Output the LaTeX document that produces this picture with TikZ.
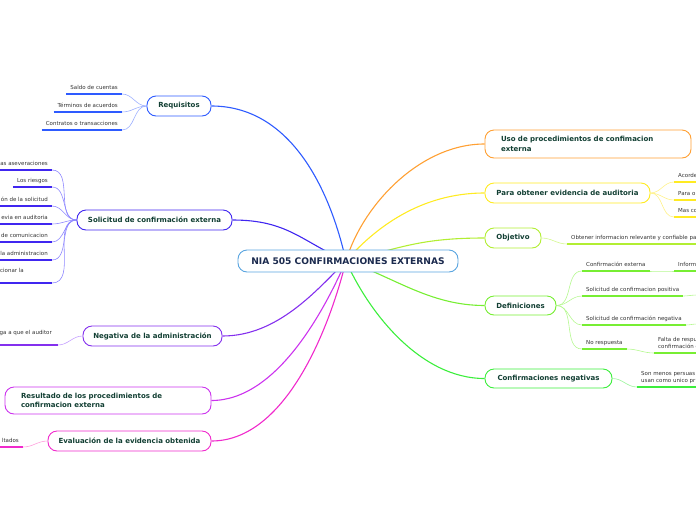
\documentclass[tikz,border=0pt]{standalone}
\usepackage{fontspec}
\setmainfont{DejaVu Sans}
\usetikzlibrary{backgrounds}
\definecolor{nodetext}{HTML}{123F33}
\definecolor{centertext}{HTML}{1B2A4E}
\definecolor{leaftext}{HTML}{333333}
\definecolor{cCen}{HTML}{5AA5E0}
\definecolor{cReq}{HTML}{2E5BFF}
\definecolor{lReq}{HTML}{9DB0FF}
\definecolor{cSol}{HTML}{4026F0}
\definecolor{lSol}{HTML}{8F88FF}
\definecolor{cNeg}{HTML}{8430EE}
\definecolor{lNeg}{HTML}{C6A2FF}
\definecolor{cRes}{HTML}{CC33EE}
\definecolor{cEva}{HTML}{F02ACC}
\definecolor{lEva}{HTML}{FFA0DD}
\definecolor{cUso}{HTML}{FFA033}
\definecolor{cPara}{HTML}{FFEB22}
\definecolor{lPara}{HTML}{FFF188}
\definecolor{cObj}{HTML}{B2EE33}
\definecolor{lObj}{HTML}{D4F890}
\definecolor{cDef}{HTML}{77EE33}
\definecolor{lDef}{HTML}{B5F890}
\definecolor{cCn}{HTML}{3CEE3C}
\definecolor{lCn}{HTML}{9AF59A}
\tikzset{
  mainbox/.style={draw, rounded corners=9pt, fill=white, line width=0.9pt,
    font=\bfseries\fontsize{7}{9.5}\selectfont, text=nodetext,
    minimum height=20pt, inner sep=0pt},
  leaf/.style={font=\fontsize{5.5}{7}\selectfont, text=leaftext,
    inner xsep=4pt, inner ysep=3pt, text depth=1pt},
  trunk/.style={line width=1.1pt},
  twig/.style={line width=0.6pt},
  uline/.style={line width=1.4pt}
}
\begin{document}
\begin{tikzpicture}[x=1pt,y=-1pt]
\useasboundingbox (0,0) rectangle (696,520);
\clip (0,0) rectangle (696,520);
% central node
\node[mainbox, draw=cCen, text=centertext, font=\bfseries\fontsize{9.1}{11}\selectfont,
  minimum width=220pt, minimum height=22pt] (cen) at (348,261) {NIA 505 CONFIRMACIONES EXTERNAS};
\coordinate (hub) at (346,261);
% left main nodes
\node[mainbox, draw=cReq, minimum width=64pt] (req) at (179,106) {Requisitos};
\node[mainbox, draw=cSol, minimum width=155pt] (sol) at (154.5,220) {Solicitud de confirmación externa};
\node[mainbox, draw=cNeg, minimum width=139pt] (neg) at (152.5,336) {Negativa de la administración};
\node[mainbox, draw=cRes, minimum height=27pt, text width=174pt, align=left, inner xsep=16pt] (res) at (108,400.5) {Resultado de los procedimientos de\\confirmacion externa};
\node[mainbox, draw=cEva, minimum width=163pt] (eva) at (129.5,441) {Evaluación de la evidencia obtenida};
% right main nodes
\node[mainbox, draw=cUso, minimum height=28pt, text width=174pt, align=left, inner xsep=16pt] (uso) at (588,144) {Uso de procedimientos de confimacion\\externa};
\node[mainbox, draw=cPara, minimum width=165pt] (para) at (567.5,193) {Para obtener evidencia de auditoria};
\node[mainbox, draw=cObj, minimum width=56pt] (obj) at (513,238) {Objetivo};
\node[mainbox, draw=cDef, minimum width=71pt, minimum height=19pt] (def) at (520.5,305.5) {Definiciones};
\node[mainbox, draw=cCn, minimum width=127pt, minimum height=19pt] (cn) at (548.5,378.5) {Confirmaciones negativas};
% Requisitos leaves
\node[leaf, anchor=south east] (r1) at (122,94) {Saldo de cuentas};
\node[leaf, anchor=south east] (r2) at (122,112) {Términos de acuerdos};
\node[leaf, anchor=south east] (r3) at (122,130) {Contratos o transacciones};
% Solicitud leaves
\node[leaf, anchor=south east] (s1) at (52,170) {as aseveraciones};
\node[leaf, anchor=south east] (s2) at (52,187) {Los riesgos};
\node[leaf, anchor=south east] (s3) at (52,206) {ón de la solicitud};
\node[leaf, anchor=south east] (s4) at (52,224) {evia en auditoria};
\node[leaf, anchor=south east] (s5) at (52,242) {de comunicacion};
\node[leaf, anchor=south east] (s6) at (52,260) {la administracion};
\node[leaf, anchor=east] (s7) at (28,271) {rcionar la};
\coordinate (s7e) at (52,283);
% Negativa leaf
\node[leaf, anchor=east] (n1) at (56,333) {ga a que el auditor};
\coordinate (n1e) at (58,345);
% Evaluacion leaf
\node[leaf, anchor=south east] (e1) at (23,447) {ltados};
% Para leaves
\node[leaf, anchor=south west] (p1) at (674,182) {Acorde};
\node[leaf, anchor=south west] (p2) at (674,200) {Para o};
\node[leaf, anchor=south west] (p3) at (674,217) {Mas co};
% Objetivo leaf
\node[leaf, anchor=south west] (o1) at (567,244) {Obtener informacion relevante y confiable pa};
% Definiciones leaves
\node[leaf, anchor=south west] (d1) at (582,271) {Confirmación externa};
\node[leaf, anchor=south west] (d1a) at (674,271) {Inform};
\node[leaf, anchor=south west] (d2) at (582,296) {Solicitud de confirmacion positiva};
\coordinate (d2x) at (697,295);
\node[leaf, anchor=south west] (d3) at (582,325) {Solicitud de confirmación negativa};
\coordinate (d3x) at (697,324);
\node[leaf, anchor=south west] (d4) at (582,349) {No respuesta};
\node[leaf, anchor=south west, align=left] (d4a) at (654,353) {Falta de respu\\confirmación c};
% Confirmaciones negativas leaf
\node[leaf, anchor=south west, align=left] (c1) at (637,387) {Son menos persuas\\usan como unico pr};

% underlines
\draw[uline, cReq] (r1.south west) -- (r1.south east);
\draw[uline, cReq] (r2.south west) -- (r2.south east);
\draw[uline, cReq] (r3.south west) -- (r3.south east);
\foreach \n in {s1,s2,s3,s4,s5,s6}{\draw[uline, cSol] (\n.south west) -- (\n.south east);}
\draw[uline, cSol] (s7e) -- ++(-60,0);
\draw[uline, cNeg] (n1e) -- ++(-60,0);
\draw[uline, cEva] (e1.south west) -- (e1.south east);
\foreach \n in {p1,p2,p3}{\draw[uline, cPara] (\n.south west) -- ++(40,0);}
\draw[uline, cObj] (o1.south west) -- (o1.south east);
\foreach \n in {d1,d2,d3,d4}{\draw[uline, cDef] (\n.south west) -- (\n.south east);}
\draw[uline, cDef] (d1a.south west) -- ++(40,0);
\draw[uline, cDef] (d4a.south west) -- ++(50,0);
\draw[uline, cCn] (c1.south west) -- ++(70,0);

\begin{pgfonlayer}{background}
% trunks
\draw[trunk, cReq] (req.east) .. controls +(75,0) and +(-18,-80) .. (hub);
\draw[trunk, cSol] (sol.east) .. controls +(55,0) and +(-45,-20) .. (hub);
\draw[trunk, cNeg] (neg.east) .. controls +(55,0) and +(-30,30) .. (hub);
\draw[trunk, cRes] (res.east) .. controls +(65,0) and +(-22,50) .. (hub);
\draw[trunk, cEva] (eva.east) .. controls +(75,0) and +(-16,65) .. (hub);
\draw[trunk, cUso] (uso.west) .. controls +(-65,0) and +(16,-55) .. (hub);
\draw[trunk, cPara] (para.west) .. controls +(-65,0) and +(28,-32) .. (hub);
\draw[trunk, cObj] (obj.west) .. controls +(-65,0) and +(55,-13) .. (hub);
\draw[trunk, cDef] (def.west) .. controls +(-55,0) and +(48,16) .. (hub);
\draw[trunk, cCn] (cn.west) .. controls +(-65,0) and +(22,50) .. (hub);
% twigs
\foreach \n in {r1,r2,r3}{\draw[twig, lReq] (req.west) to[out=180,in=0] (\n.south east);}
\foreach \n in {s1,s2,s3,s4,s5,s6}{\draw[twig, lSol] (sol.west) to[out=180,in=0] (\n.south east);}
\draw[twig, lSol] (sol.west) to[out=180,in=0] (s7e);
\draw[twig, lNeg] (neg.west) to[out=180,in=0] (n1e);
\draw[twig, lEva] (eva.west) to[out=180,in=0] (e1.south east);
\foreach \n in {p1,p2,p3}{\draw[twig, lPara] (para.east) to[out=0,in=180] (\n.south west);}
\draw[twig, lObj] (obj.east) to[out=0,in=180] (o1.south west);
\foreach \n in {d1,d2,d3,d4}{\draw[twig, lDef] (def.east) to[out=0,in=180] (\n.south west);}
\draw[twig, lDef] (d1.south east) to[out=0,in=180] (d1a.south west);
\draw[twig, lDef] (d2.south east) to[out=0,in=180] (d2x);
\draw[twig, lDef] (d3.south east) to[out=0,in=180] (d3x);
\draw[twig, lDef] (d4.south east) to[out=0,in=180] (d4a.south west);
\draw[twig, lCn] (cn.east) to[out=0,in=180] (c1.south west);
\end{pgfonlayer}
\end{tikzpicture}
\end{document}
